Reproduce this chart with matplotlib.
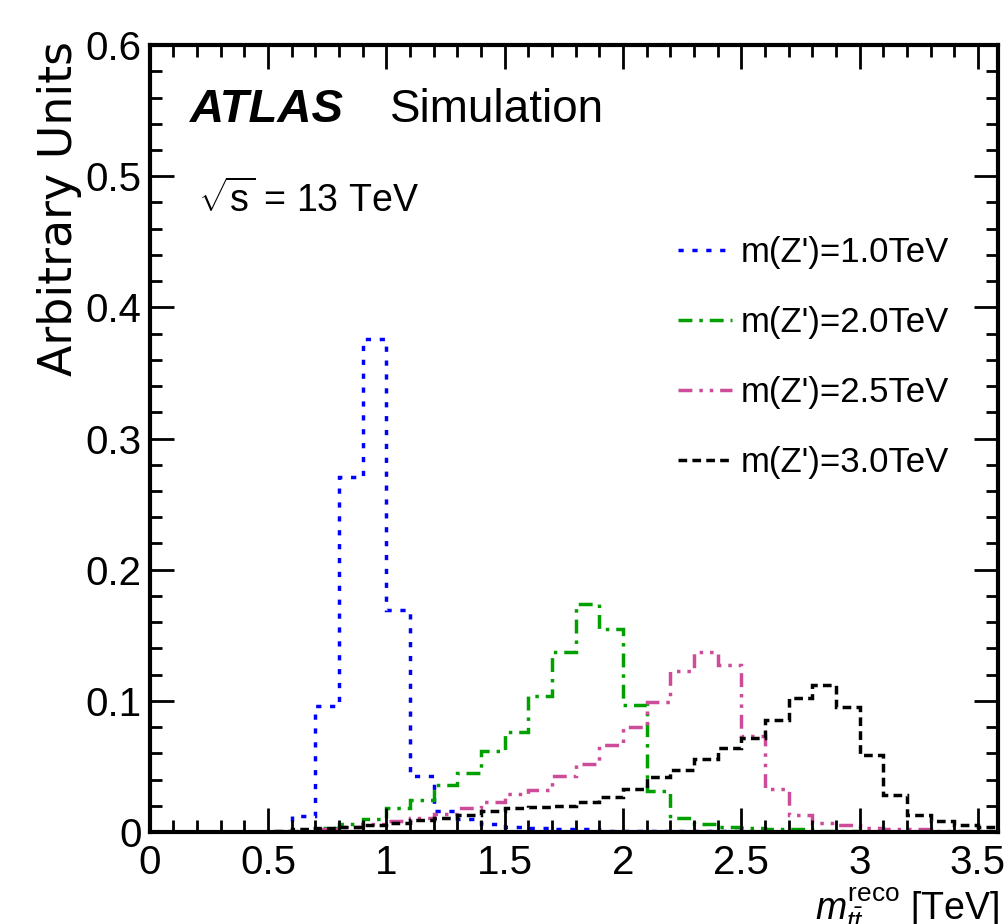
import numpy as np
import matplotlib
matplotlib.use('Agg')
import matplotlib.pyplot as plt

# bin edges of the reco mass histograms (TeV), 0.1 TeV bins
bin_edges = np.round(np.linspace(0.0, 3.6, 37), 2)

# normalised distributions, one value per bin
mz_1p0 = [0, 0, 0, 0, 0, 0, 0.012, 0.096, 0.271, 0.376, 0.169, 0.043, 0.016, 0.010,
          0.006, 0.004, 0.003, 0.002, 0.002, 0.001, 0.001, 0.001, 0.001, 0.001, 0.001,
          0, 0, 0, 0, 0, 0, 0, 0, 0, 0, 0]
mz_2p0 = [0, 0, 0, 0, 0, 0, 0, 0.003, 0.006, 0.010, 0.018, 0.024, 0.036, 0.045, 0.062,
          0.076, 0.104, 0.137, 0.174, 0.155, 0.097, 0.031, 0.011, 0.006, 0.004, 0.003,
          0.002, 0.002, 0.001, 0.001, 0, 0, 0, 0, 0, 0]
mz_2p5 = [0, 0, 0, 0, 0, 0, 0.001, 0.002, 0.004, 0.006, 0.008, 0.011, 0.014, 0.018,
          0.023, 0.029, 0.032, 0.043, 0.052, 0.066, 0.080, 0.099, 0.123, 0.137, 0.127,
          0.073, 0.033, 0.013, 0.007, 0.005, 0.003, 0.002, 0.002, 0.001, 0.001, 0.001]
mz_3p0 = [0, 0, 0, 0, 0, 0.001, 0.002, 0.003, 0.004, 0.005, 0.007, 0.009, 0.011, 0.013,
          0.016, 0.018, 0.019, 0.020, 0.023, 0.027, 0.033, 0.042, 0.047, 0.056, 0.064,
          0.072, 0.085, 0.102, 0.112, 0.095, 0.059, 0.028, 0.013, 0.008, 0.005, 0.004]

labels = ["m(Z')=1.0TeV", "m(Z')=2.0TeV", "m(Z')=2.5TeV", "m(Z')=3.0TeV"]
colors = ['#0000ff', '#00a000', '#cc4c99', '#000000']
styles = [(0, (1.5, 2.5)), (0, (4, 2, 1, 2)), (0, (4, 2, 1, 2, 1, 2)), (0, (2.5, 1.5))]

plt.rcParams['font.family'] = ['Liberation Sans', 'DejaVu Sans']
plt.rcParams['mathtext.fontset'] = 'custom'
plt.rcParams['mathtext.rm'] = 'Liberation Sans'
plt.rcParams['mathtext.it'] = 'Liberation Sans:italic'
plt.rcParams['mathtext.bf'] = 'Liberation Sans:bold'

fig = plt.figure(figsize=(10.05, 9.24), dpi=100)
ax = fig.add_axes([0.149, 0.0996, 0.844, 0.8516])

for vals, lab, col, ls in zip([mz_1p0, mz_2p0, mz_2p5, mz_3p0], labels, colors, styles):
    ax.stairs(vals, bin_edges, baseline=None, color=col, linestyle=ls, linewidth=2.5,
              label=lab)

ax.set_xlim(0, 3.585)
ax.set_ylim(0, 0.6)
ax.set_xticks([0, 0.5, 1, 1.5, 2, 2.5, 3, 3.5])
ax.set_xticklabels(['0', '0.5', '1', '1.5', '2', '2.5', '3', '3.5'])
ax.set_yticks([0, 0.1, 0.2, 0.3, 0.4, 0.5, 0.6])
ax.set_yticklabels(['0', '0.1', '0.2', '0.3', '0.4', '0.5', '0.6'])
ax.set_xticks(np.round(np.arange(0, 3.6, 0.1), 2), minor=True)
ax.set_yticks(np.round(np.arange(0, 0.6, 0.02), 2), minor=True)
ax.tick_params(which='both', direction='in', top=True, right=True, labelsize=29)
ax.tick_params(which='major', length=17, width=2)
ax.tick_params(which='minor', length=8.5, width=2)
ax.tick_params(axis='x', pad=9)
ax.tick_params(axis='y', pad=6)
for sp in ax.spines.values():
    sp.set_linewidth(3)

ax.set_xlabel(r"$m^{\mathrm{reco}}_{t\bar{t}}$ [TeV]", fontsize=27, loc='right')
ax.xaxis.set_label_coords(1.002, -0.068)
ax.set_ylabel('Arbitrary Units', fontsize=33, loc='top', family='DejaVu Sans')
ax.yaxis.set_label_coords(-0.08, 1.005)

ax.text(0.047, 0.902, 'ATLAS', transform=ax.transAxes, fontsize=34,
        fontweight='bold', fontstyle='italic')
ax.text(0.283, 0.902, 'Simulation', transform=ax.transAxes, fontsize=33)
ax.text(0.057, 0.788, r'$\sqrt{\mathrm{s}}$ = 13 TeV', transform=ax.transAxes, fontsize=27)

ax.legend(loc='upper left', bbox_to_anchor=(0.623, 0.757), frameon=False, fontsize=25,
          handlelength=1.56, handletextpad=0.23, labelspacing=1.06, borderpad=0,
          borderaxespad=0)

fig.savefig('out.png', dpi=100)
